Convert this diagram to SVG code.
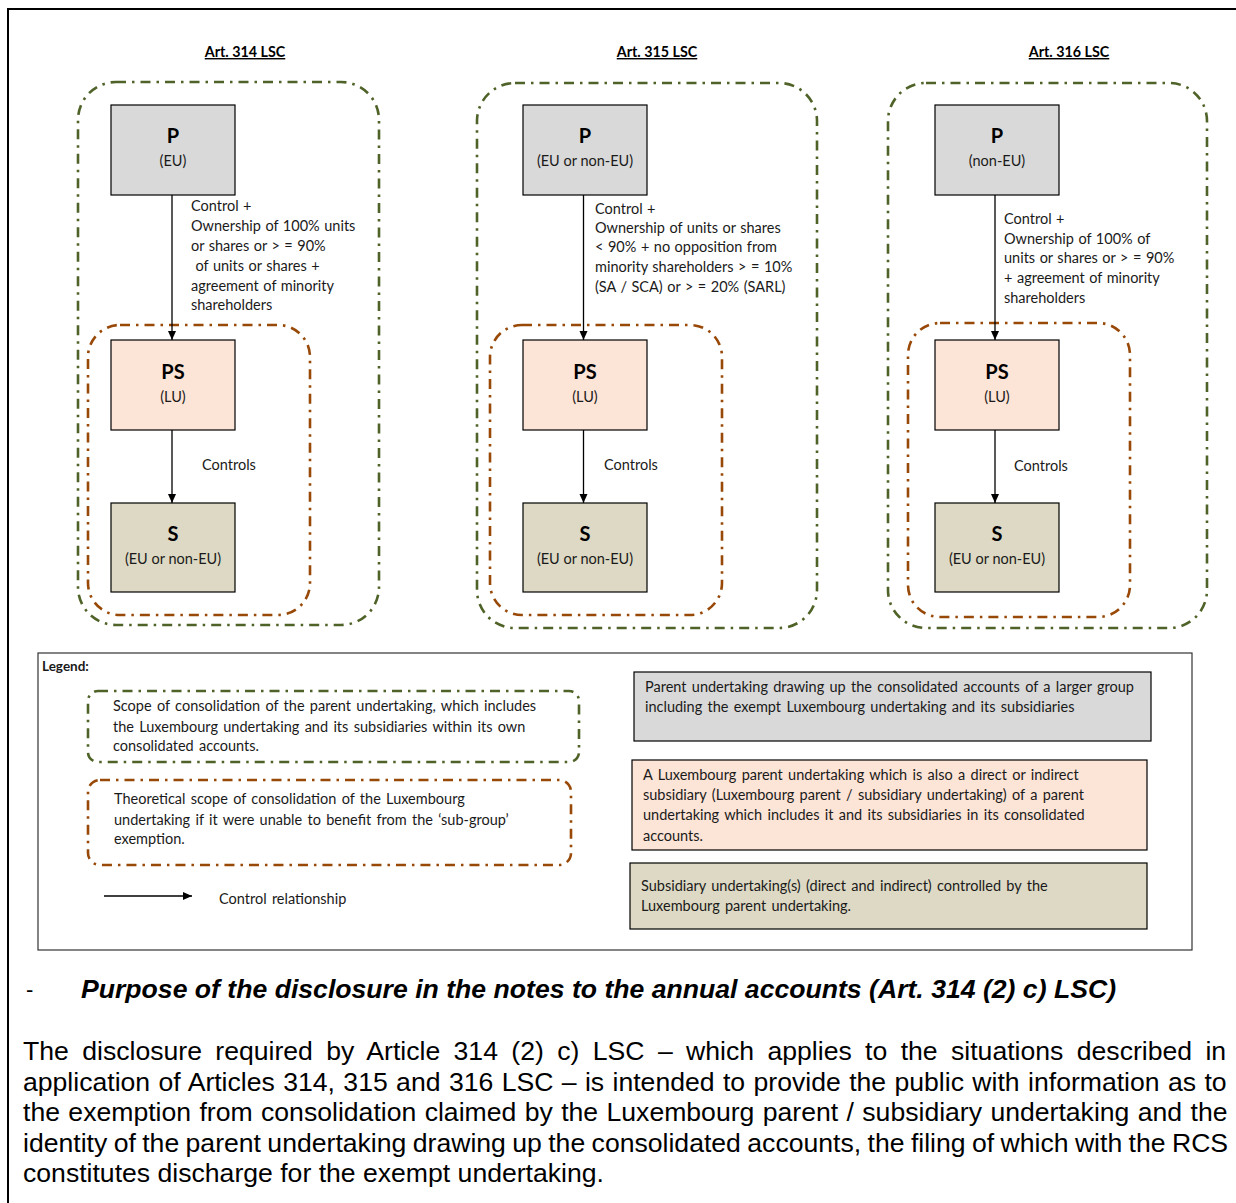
<svg xmlns="http://www.w3.org/2000/svg" width="1236" height="1203" viewBox="0 0 1236 1203">
<defs>
<marker id="ah" markerWidth="10" markerHeight="10" refX="9" refY="5" orient="auto" markerUnits="userSpaceOnUse">
<path d="M0,1 L9,5 L0,9 Z" fill="#000"/>
</marker>
<style>
.t{font-family:Lato,"Liberation Sans",sans-serif;font-size:14.5px;word-spacing:0.8px;fill:#1a1a1a}
.lg{font-family:Lato,"Liberation Sans",sans-serif;font-size:14.5px;word-spacing:1.6px;fill:#1a1a1a}
.ttl{font-family:Lato,"Liberation Sans",sans-serif;font-size:14.3px;font-weight:bold;text-decoration:underline;text-anchor:middle;fill:#000}
.big{font-family:Lato,"Liberation Sans",sans-serif;font-size:20px;font-weight:bold;text-anchor:middle;fill:#000}
.sub{font-family:Lato,"Liberation Sans",sans-serif;font-size:14.5px;text-anchor:middle;fill:#1a1a1a}
.box{stroke:#000;stroke-width:1.2}
.p{fill:#d9d9d9}
.ps{fill:#fce4d6}
.s{fill:#ddd9c4}
.gr{fill:none;stroke:#4f6228;stroke-width:2.6;stroke-dasharray:10 6 2.5 6}
.br{fill:none;stroke:#984807;stroke-width:2.6;stroke-dasharray:10 6 2.5 6}
.arr{stroke:#000;stroke-width:1.3;fill:none;marker-end:url(#ah)}
.body{font-family:"Liberation Sans",Arial,sans-serif;font-size:26.6px;fill:#000}
.head{font-family:"Liberation Sans",Arial,sans-serif;font-size:25px;font-weight:bold;font-style:italic;fill:#000}
</style>
</defs>
<rect width="1236" height="1203" fill="#fff"/>
<path d="M8,1203 V9 H1236" fill="none" stroke="#000" stroke-width="2"/>

<!-- Column titles -->
<text class="ttl" x="245" y="57">Art. 314 LSC</text>
<text class="ttl" x="657" y="57">Art. 315 LSC</text>
<text class="ttl" x="1069" y="57">Art. 316 LSC</text>

<!-- Scope boundaries -->
<g id="scopes">
<rect class="gr" x="78" y="82" width="301" height="543" rx="38"/>
<rect class="br" x="88" y="325" width="222" height="290" rx="32"/>
<rect class="gr" x="477" y="83" width="340" height="545" rx="38"/>
<rect class="br" x="490" y="325" width="232" height="290" rx="32"/>
<rect class="gr" x="888" y="83" width="319" height="545" rx="38"/>
<rect class="br" x="908" y="323" width="222" height="294" rx="32"/>
</g>

<!-- Column 1 -->
<g id="p314"><rect class="box p" x="111" y="105" width="124" height="90"/><text class="big" x="173" y="143">P</text><text class="sub" x="173" y="166">(EU)</text></g>
<g id="ps314"><rect class="box ps" x="111" y="340" width="124" height="90"/><text class="big" x="173" y="379">PS</text><text class="sub" x="173" y="401.5">(LU)</text></g>
<g id="s314"><rect class="box s" x="111" y="503" width="124" height="89"/><text class="big" x="173" y="540.5">S</text><text class="sub" x="173" y="563.5">(EU or non-EU)</text></g>

<!-- Column 2 -->
<g id="p315"><rect class="box p" x="523" y="105" width="124" height="90"/><text class="big" x="585" y="143">P</text><text class="sub" x="585" y="166">(EU or non-EU)</text></g>
<g id="ps315"><rect class="box ps" x="523" y="340" width="124" height="90"/><text class="big" x="585" y="379">PS</text><text class="sub" x="585" y="401.5">(LU)</text></g>
<g id="s315"><rect class="box s" x="523" y="503" width="124" height="89"/><text class="big" x="585" y="540.5">S</text><text class="sub" x="585" y="563.5">(EU or non-EU)</text></g>

<!-- Column 3 -->
<g id="p316"><rect class="box p" x="935" y="105" width="124" height="90"/><text class="big" x="997" y="143">P</text><text class="sub" x="997" y="166">(non-EU)</text></g>
<g id="ps316"><rect class="box ps" x="935" y="340" width="124" height="90"/><text class="big" x="997" y="379">PS</text><text class="sub" x="997" y="401.5">(LU)</text></g>
<g id="s316"><rect class="box s" x="935" y="503" width="124" height="89"/><text class="big" x="997" y="540.5">S</text><text class="sub" x="997" y="563.5">(EU or non-EU)</text></g>

<!-- Connectors -->
<g id="connectors">
<line class="arr" x1="172" y1="195" x2="172" y2="340"/>
<line class="arr" x1="172" y1="430" x2="172" y2="503"/>
<line class="arr" x1="583.5" y1="195" x2="583.5" y2="340"/>
<line class="arr" x1="583.5" y1="430" x2="583.5" y2="503"/>
<line class="arr" x1="995" y1="195" x2="995" y2="340"/>
<line class="arr" x1="995" y1="430" x2="995" y2="503"/>
<text class="t"><tspan x="191" y="211">Control +</tspan><tspan x="191" y="231">Ownership of 100% units</tspan><tspan x="191" y="251">or shares or &gt; = 90%</tspan><tspan x="191" y="270.5"> of units or shares +</tspan><tspan x="191" y="290.5">agreement of minority</tspan><tspan x="191" y="309.5">shareholders</tspan></text>
<text class="t" x="202" y="470">Controls</text>
<text class="t"><tspan x="595" y="213.5">Control +</tspan><tspan x="595" y="232.5">Ownership of units or shares</tspan><tspan x="595" y="251.5">&lt; 90% + no opposition from</tspan><tspan x="595" y="271.5">minority shareholders &gt; = 10%</tspan><tspan x="595" y="291.5">(SA / SCA) or &gt; = 20% (SARL)</tspan></text>
<text class="t" x="604" y="470">Controls</text>
<text class="t"><tspan x="1004" y="223.5">Control +</tspan><tspan x="1004" y="243.5">Ownership of 100% of</tspan><tspan x="1004" y="263">units or shares or &gt; = 90%</tspan><tspan x="1004" y="282.5">+ agreement of minority</tspan><tspan x="1004" y="302.5">shareholders</tspan></text>
<text class="t" x="1014" y="471">Controls</text>
</g>

<!-- Legend -->
<g id="legend">
<rect x="38" y="653" width="1154" height="297" fill="none" stroke="#333" stroke-width="1.2"/>
<text class="t" x="42" y="671" style="font-weight:bold;font-size:13.5px">Legend:</text>
<g id="leg-green">
<rect class="gr" x="88" y="691" width="491" height="71" rx="10"/>
<text class="lg"><tspan x="113" y="711">Scope of consolidation of the parent undertaking, which includes</tspan><tspan x="113" y="732">the Luxembourg undertaking and its subsidiaries within its own</tspan><tspan x="113" y="751">consolidated accounts.</tspan></text>
</g>
<g id="leg-brown">
<rect class="br" x="88" y="780" width="483" height="85" rx="12"/>
<text class="lg"><tspan x="114" y="804">Theoretical scope of consolidation of the Luxembourg</tspan><tspan x="114" y="825">undertaking if it were unable to benefit from the ‘sub-group’</tspan><tspan x="114" y="844">exemption.</tspan></text>
</g>
<g id="leg-arrow">
<line class="arr" x1="104" y1="896" x2="192" y2="896"/>
<text class="lg" x="219" y="904">Control relationship</text>
</g>
<g id="leg-p">
<rect class="box p" x="634" y="672" width="517" height="69"/>
<text class="lg"><tspan x="645" y="692">Parent undertaking drawing up the consolidated accounts of a larger group</tspan><tspan x="645" y="712">including the exempt Luxembourg undertaking and its subsidiaries</tspan></text>
</g>
<g id="leg-ps">
<rect class="box ps" x="632" y="760" width="515" height="90"/>
<text class="lg"><tspan x="643" y="780">A Luxembourg parent undertaking which is also a direct or indirect</tspan><tspan x="643" y="800">subsidiary (Luxembourg parent / subsidiary undertaking) of a parent</tspan><tspan x="643" y="820">undertaking which includes it and its subsidiaries in its consolidated</tspan><tspan x="643" y="841">accounts.</tspan></text>
</g>
<g id="leg-s">
<rect class="box s" x="630" y="863" width="517" height="66"/>
<text class="lg"><tspan x="641" y="891">Subsidiary undertaking(s) (direct and indirect) controlled by the</tspan><tspan x="641" y="911">Luxembourg parent undertaking.</tspan></text>
</g>
</g>

<!-- Bottom text -->
<text class="body" x="26" y="997" style="font-size:22px">-</text>
<text class="head" x="81" y="998" textLength="1035" lengthAdjust="spacingAndGlyphs">Purpose of the disclosure in the notes to the annual accounts (Art. 314 (2) c) LSC)</text>
<text class="body" x="23" y="1060" style="word-spacing:6.0px">The disclosure required by Article 314 (2) c) LSC – which applies to the situations described in</text>
<text class="body" x="23" y="1090.5" style="word-spacing:1.0px">application of Articles 314, 315 and 316 LSC – is intended to provide the public with information as to</text>
<text class="body" x="23" y="1121" style="word-spacing:1.0px">the exemption from consolidation claimed by the Luxembourg parent / subsidiary undertaking and the</text>
<text class="body" x="23" y="1151.5" style="word-spacing:-1.0px">identity of the parent undertaking drawing up the consolidated accounts, the filing of which with the RCS</text>
<text class="body" x="23" y="1182">constitutes discharge for the exempt undertaking.</text>
</svg>
